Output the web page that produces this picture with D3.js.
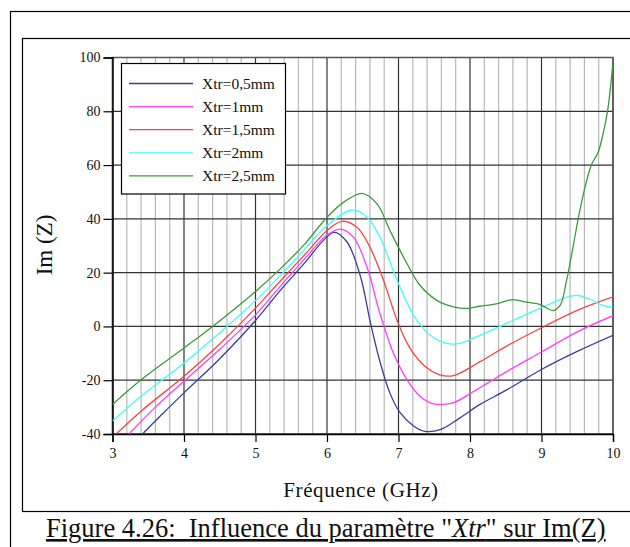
<!DOCTYPE html>
<html>
<head>
<meta charset="utf-8">
<script src="https://cdn.jsdelivr.net/npm/d3@7"></script>
<style>
  body { margin: 0; background: #fff; }
  svg { display: block; }
</style>
</head>
<body>
<script>
// Données (fréquence en GHz, Im(Z))
const fBlue = [3.42, 3.7, 4.0, 4.5, 5.0, 5.35, 5.7, 5.95, 6.1, 6.28, 6.47, 6.6, 6.74, 6.88, 7.02, 7.21, 7.37, 7.58, 7.86, 8.14, 8.5, 9.0, 9.5, 10];
const vBlue = [-40, -32.5, -24.7, -12, 2.2, 13.5, 24, 32, 35, 31.4, 18.4, 2.3, -13, -24.8, -32, -37, -39, -38.4, -34, -29, -23.8, -16, -9.3, -3.3];

const fMagenta = [3.23, 3.6, 4.0, 4.5, 5.0, 5.35, 5.7, 6.0, 6.19, 6.37, 6.56, 6.74, 6.93, 7.12, 7.3, 7.49, 7.77, 8.0, 8.25, 8.5, 9.0, 9.5, 10];
const vMagenta = [-40, -30, -20.4, -8.5, 4.3, 15, 25.5, 34, 36.2, 33.2, 22, 4.8, -10, -19.9, -26, -28.8, -28.3, -25, -21, -17, -9.5, -2, 4];

const fRed = [3.05, 3.4, 4.0, 4.5, 5.0, 5.35, 5.7, 6.0, 6.21, 6.42, 6.6, 6.79, 6.98, 7.16, 7.35, 7.58, 7.77, 8.14, 8.5, 9.0, 9.5, 10];
const vRed = [-40, -31.5, -18.5, -6.5, 6.8, 17, 27, 35.7, 39.1, 36.9, 29.5, 17.2, 2.3, -8.1, -14.3, -18, -18.3, -13.1, -7.5, -0.5, 6, 11];

const fCyan = [3, 3.4, 4.0, 4.6, 5.0, 5.35, 5.7, 6.0, 6.35, 6.56, 6.74, 6.98, 7.21, 7.44, 7.67, 7.86, 8.14, 8.6, 9.07, 9.35, 9.51, 9.67, 9.86, 10];
const vCyan = [-35.2, -26, -13.6, 0, 9.6, 19, 29, 37.5, 43.3, 40.6, 33.2, 17.2, 4.2, -3.2, -6.3, -6.3, -3.3, 2.2, 7.8, 10.9, 11.5, 10.2, 7.8, 7.2];

const fGreen = [3, 3.4, 4.0, 4.4, 5.0, 5.35, 5.7, 6.0, 6.25, 6.49, 6.7, 6.88, 7.12, 7.3, 7.53, 7.77, 7.95, 8.14, 8.37, 8.6, 8.79, 8.95, 9.05, 9.16, 9.26, 9.35, 9.44, 9.53, 9.63, 9.7, 9.79, 9.86, 9.93, 10];
const vGreen = [-29, -19.8, -8, 0, 13, 21.5, 31, 40.6, 46.5, 49.5, 45.6, 35.7, 23.3, 15.3, 9.8, 7.3, 6.7, 7.5, 8.4, 10, 9, 8.4, 7.2, 5.9, 7.8, 17, 29.4, 42.3, 54, 60.2, 64.6, 71.4, 81.2, 98.5];

const seriesNames = ["Xtr=0,5mm", "Xtr=1mm", "Xtr=1,5mm", "Xtr=2mm", "Xtr=2,5mm"];
const seriesColors = ["#3a3e9c", "#ff3cff", "#ff4040", "#3cffff", "#3c9a3c"];
const xTicks = [3, 4, 5, 6, 7, 8, 9, 10];
const yTicks = [-40, -20, 0, 20, 40, 60, 80, 100];

const series = [
    { f: fBlue, v: vBlue },
    { f: fMagenta, v: vMagenta },
    { f: fRed, v: vRed },
    { f: fCyan, v: vCyan },
    { f: fGreen, v: vGreen }
].map((s, i) => ({
    name: seriesNames[i],
    color: seriesColors[i],
    points: s.f.map((f, j) => [f, s.v[j]])
}));

const W = 630, H = 547;
const pLeft = 112.5, pRight = 613, pTop = 57.5, pBottom = 434;
const serif = "'Liberation Serif', 'DejaVu Serif', serif";

const svg = d3.select("body").append("svg")
    .attr("width", W)
    .attr("height", H);

// cadres
svg.append("rect")
    .attr("x", 10.5).attr("y", 11.5)
    .attr("width", 640).attr("height", 560)
    .attr("fill", "none").attr("stroke", "#000").attr("stroke-width", 1.2);
svg.append("rect")
    .attr("x", 22.5).attr("y", 38.5)
    .attr("width", 640).attr("height", 473)
    .attr("fill", "none").attr("stroke", "#000").attr("stroke-width", 1.2);

let x = d3.scaleLinear().domain([3, 10]).range([pLeft, pRight]);
let y = d3.scaleLinear().domain([-40, 100]).range([pBottom, pTop]);

// grille secondaire (0,2 GHz)
const minor = d3.range(3, 10.001, 0.2).filter(f => Math.abs(f - Math.round(f)) > 0.01);
svg.append("g").selectAll("line")
    .data(minor)
    .enter()
    .append("line")
    .attr("x1", d => x(d)).attr("x2", d => x(d))
    .attr("y1", y(100)).attr("y2", y(-40))
    .attr("stroke", "#b8b8b8").attr("stroke-width", 1.2);

// grille principale
svg.append("g").selectAll("line")
    .data(xTicks)
    .enter()
    .append("line")
    .attr("x1", d => x(d)).attr("x2", d => x(d))
    .attr("y1", y(100)).attr("y2", y(-40))
    .attr("stroke", "#333").attr("stroke-width", 1.2);
svg.append("g").selectAll("line")
    .data(yTicks)
    .enter()
    .append("line")
    .attr("x1", x(3)).attr("x2", x(10))
    .attr("y1", d => y(d)).attr("y2", d => y(d))
    .attr("stroke", "#333").attr("stroke-width", 1.2);

// bordure
svg.append("rect")
    .attr("x", pLeft).attr("y", pTop)
    .attr("width", pRight - pLeft).attr("height", pBottom - pTop)
    .attr("fill", "none").attr("stroke", "#555").attr("stroke-width", 1.5);

// axes
const xAxis = svg.append("g")
    .attr("transform", "translate(0," + pBottom + ")")
    .call(d3.axisBottom(x).tickValues(xTicks).tickSize(8).tickPadding(6).tickFormat(d => String(d)));
const yAxis = svg.append("g")
    .attr("transform", "translate(" + pLeft + ",0)")
    .call(d3.axisLeft(y).tickValues(yTicks).tickSize(9).tickPadding(3).tickFormat(d => String(d)));
[xAxis, yAxis].forEach(a => {
    a.attr("font-family", null).attr("font-size", null);
    a.select(".domain").attr("stroke", "#000").attr("stroke-width", 1.4);
    a.selectAll(".tick line").attr("stroke", "#000").attr("stroke-width", 1.2);
    a.selectAll("text")
        .style("font-family", serif)
        .style("font-size", "14px")
        .attr("fill", "#111");
});

// courbes
svg.append("clipPath").attr("id", "clip")
    .append("rect").attr("x", pLeft).attr("y", pTop - 1)
    .attr("width", pRight - pLeft).attr("height", pBottom - pTop + 1);

const line = d3.line()
    .x(d => x(d[0]))
    .y(d => y(d[1]))
    .curve(d3.curveCatmullRom.alpha(0.5));

svg.append("g").attr("clip-path", "url(#clip)")
    .selectAll("path")
    .data(series)
    .enter()
    .append("path")
    .attr("d", d => line(d.points))
    .attr("fill", "none")
    .attr("stroke", d => d.color)
    .attr("stroke-width", 1.3);

// légende
const legend = svg.append("g");
legend.append("rect")
    .attr("x", 121.5).attr("y", 63.5)
    .attr("width", 164).attr("height", 130.5)
    .attr("fill", "#fff").attr("stroke", "#000").attr("stroke-width", 1.2);
series.forEach((s, i) => {
    const ly = 83.5 + i * 23.1;
    legend.append("line")
        .attr("x1", 129).attr("x2", 193)
        .attr("y1", ly).attr("y2", ly)
        .attr("stroke", s.color).attr("stroke-width", 1.3);
    legend.append("text")
        .attr("x", 202).attr("y", ly + 5)
        .style("font-family", serif)
        .style("font-size", "15.5px")
        .attr("fill", "#111")
        .text(s.name);
});

// titres des axes
svg.append("text")
    .attr("transform", "translate(52,245) rotate(-90)")
    .attr("text-anchor", "middle")
    .style("font-family", serif)
    .style("font-size", "23px")
    .attr("fill", "#111")
    .text("Im (Z)");
svg.append("text")
    .attr("x", 361).attr("y", 497)
    .attr("text-anchor", "middle")
    .style("font-family", serif)
    .style("font-size", "21px")
    .style("letter-spacing", "0.6px")
    .attr("fill", "#111")
    .text("Fréquence (GHz)");

// légende de la figure
const cap = svg.append("text")
    .attr("x", 46).attr("y", 537)
    .style("font-family", serif)
    .style("font-size", "26.5px")
    .style("white-space", "pre")
    .attr("text-decoration", "underline")
    .attr("fill", "#111");
cap.append("tspan").text("Figure 4.26:  Influence du paramètre \"");
cap.append("tspan").style("font-style", "italic").text("Xtr");
cap.append("tspan").text("\" sur Im(Z)");
</script>
</body>
</html>
